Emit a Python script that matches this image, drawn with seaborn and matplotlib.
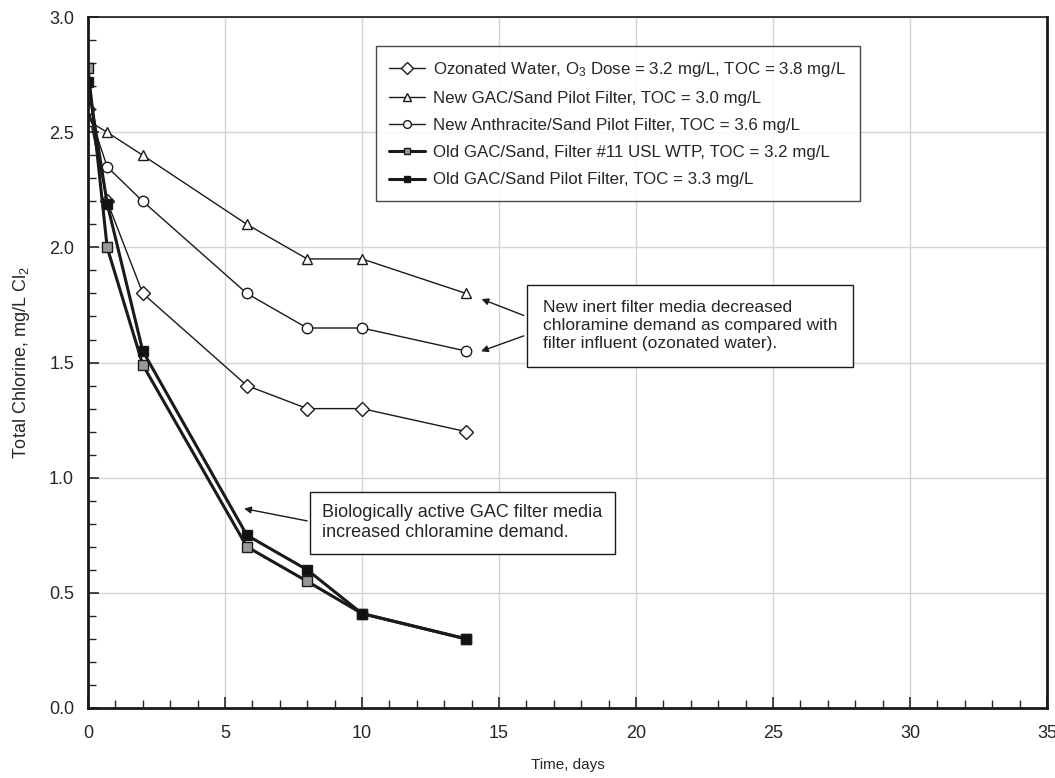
import pandas as pd
import matplotlib.pyplot as plt
import seaborn as sns
from matplotlib.ticker import MultipleLocator

# dados
dias = [0, 0.7, 2, 5.8, 8, 10, 13.8]
ozonizada = [2.6, 2.2, 1.8, 1.4, 1.3, 1.3, 1.2]
gac_novo = [2.55, 2.5, 2.4, 2.1, 1.95, 1.95, 1.8]
antracito_novo = [2.6, 2.35, 2.2, 1.8, 1.65, 1.65, 1.55]
gac_velho_f11 = [2.78, 2.0, 1.49, 0.70, 0.55, 0.41, 0.30]
gac_velho_piloto = [2.72, 2.19, 1.55, 0.75, 0.60, 0.41, 0.30]

nomes = [
    'Ozonated Water, O$_3$ Dose = 3.2 mg/L, TOC = 3.8 mg/L',
    'New GAC/Sand Pilot Filter, TOC = 3.0 mg/L',
    'New Anthracite/Sand Pilot Filter, TOC = 3.6 mg/L',
    'Old GAC/Sand, Filter #11 USL WTP, TOC = 3.2 mg/L',
    'Old GAC/Sand Pilot Filter, TOC = 3.3 mg/L',
]
series = [ozonizada, gac_novo, antracito_novo, gac_velho_f11, gac_velho_piloto]

sns.set_style('white')
plt.rcParams['font.family'] = ['Liberation Sans', 'DejaVu Sans']
plt.rcParams['mathtext.default'] = 'regular'
plt.rcParams['font.size'] = 11

fig = plt.figure(figsize=(10.55, 7.78), dpi=100)
ax = fig.add_axes([0.0834, 0.09, 0.909, 0.888])

estilos = [
    dict(marker='D', markersize=7.5, markerfacecolor='white', lw=1.0),
    dict(marker='^', markersize=7, markerfacecolor='white', lw=1.0),
    dict(marker='o', markersize=7.5, markerfacecolor='white', lw=1.0),
    dict(marker='s', markersize=6.5, markerfacecolor='#999999', lw=2.2),
    dict(marker='s', markersize=6.5, markerfacecolor='#111111', lw=2.2),
]

for nome, valores, est in zip(nomes, series, estilos):
    df = pd.DataFrame({'dia': dias, 'cloro': valores})
    sns.lineplot(data=df, x='dia', y='cloro', ax=ax, color='#1a1a1a',
                 markeredgecolor='#1a1a1a', markeredgewidth=1.0, label=nome,
                 **est)

ax.set_xlim(0, 35)
ax.set_ylim(0, 3.0)
ax.xaxis.set_major_locator(MultipleLocator(5))
ax.xaxis.set_minor_locator(MultipleLocator(1))
ax.yaxis.set_major_locator(MultipleLocator(0.5))
ax.yaxis.set_minor_locator(MultipleLocator(0.1))
ax.yaxis.set_major_formatter(plt.FormatStrFormatter('%.1f'))
ax.grid(True, which='major', color='#d4d4d4', lw=1.0)
ax.tick_params(which='major', direction='in', length=8, width=1.2, labelsize=13,
               bottom=True, left=True)
ax.tick_params(axis='y', which='major', pad=10)
ax.tick_params(axis='x', which='major', pad=12)
ax.tick_params(which='minor', direction='in', length=6, width=1.0,
               bottom=True, left=True)
for lado in ['left', 'bottom', 'right']:
    ax.spines[lado].set_linewidth(2.0)
ax.spines['top'].set_linewidth(1.2)
for s in ax.spines.values():
    s.set_color('#1a1a1a')

ax.set_xlabel('Time, days', fontsize=11, labelpad=12)
ax.set_ylabel('Total Chlorine, mg/L Cl$_2$', fontsize=13, labelpad=12)

leg = ax.legend(loc='upper left', bbox_to_anchor=(0.30, 0.958), borderaxespad=0,
                frameon=True, fancybox=False, edgecolor='#1a1a1a', fontsize=12.2,
                handlelength=2.1, handletextpad=0.5, labelspacing=0.72,
                borderpad=0.8, markerscale=0.75)
leg.get_frame().set_linewidth(1.0)

caixa1 = dict(boxstyle='square,pad=0.9', facecolor='white', edgecolor='#1a1a1a', lw=1.0)
caixa2 = dict(boxstyle='square,pad=0.7', facecolor='white', edgecolor='#1a1a1a', lw=1.0)
ax.text(16.6, 1.66, 'New inert filter media decreased\nchloramine demand as compared with\nfilter influent (ozonated water).',
        ha='left', va='center', fontsize=12.5, linespacing=1.25, bbox=caixa1)
ax.text(8.55, 0.805, 'Biologically active GAC filter media\nincreased chloramine demand.',
        ha='left', va='center', fontsize=13, linespacing=1.2, bbox=caixa2)

seta = dict(arrowstyle='-|>', color='#1a1a1a', lw=1.0, mutation_scale=10)
ax.annotate('', xy=(14.27, 1.78), xytext=(16.0, 1.70), arrowprops=seta)
ax.annotate('', xy=(14.25, 1.545), xytext=(16.0, 1.62), arrowprops=seta)
ax.annotate('', xy=(5.6, 0.868), xytext=(8.1, 0.81), arrowprops=seta)

plt.savefig('out.png', dpi=100)
plt.close()
